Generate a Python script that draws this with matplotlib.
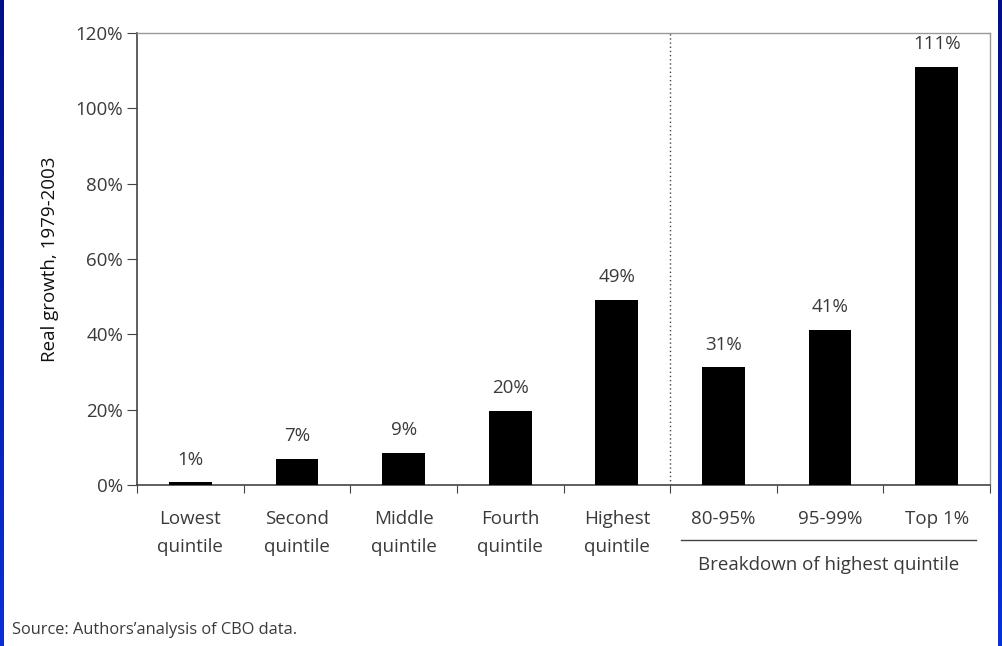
import numpy as np
import matplotlib
matplotlib.use("Agg")
from matplotlib import pyplot as plt

plt.rcParams['font.family'] = ['Open Sans', 'DejaVu Sans']

# data
categories = ['Lowest\nquintile', 'Second\nquintile', 'Middle\nquintile', 'Fourth\nquintile',
              'Highest\nquintile', '80-95%', '95-99%', 'Top 1%']
growth = [0.7, 6.9, 8.6, 19.7, 49.2, 31.2, 41.2, 111.0]
value_labels = ['1%', '7%', '9%', '20%', '49%', '31%', '41%', '111%']
y_ticks = [0, 20, 40, 60, 80, 100, 120]

text_color = '#3a3a3a'
fs = 13.5

fig = plt.figure(figsize=(10.02, 6.46), dpi=100)
ax = fig.add_axes([137 / 1002, 1 - 485 / 646, (990 - 137) / 1002, (485 - 33) / 646])

x = np.arange(len(categories))
ax.bar(x, growth, width=0.4, color='black', zorder=3)
for xi, v, lab in zip(x, growth, value_labels):
    ax.text(xi, v + 6.0, lab, ha='center', va='center', fontsize=fs, color=text_color)

ax.set_xlim(-0.5, len(categories) - 0.5)
ax.set_ylim(0, 120)
ax.set_yticks(y_ticks)
ax.set_yticklabels([f'{t}%' for t in y_ticks])
ax.set_xticks(np.arange(len(categories) + 1) - 0.5)
ax.set_xticklabels([])
ax.set_xticks(x, minor=True)
ax.set_xticklabels(categories, minor=True, linespacing=1.7)
ax.tick_params(axis='x', which='minor', length=0, pad=18, labelsize=fs, labelcolor=text_color)
ax.tick_params(axis='x', which='major', direction='out', length=6, color='#444444')
ax.tick_params(axis='y', direction='out', length=7, color='#444444', labelsize=fs,
               labelcolor=text_color, pad=3)

for side in ['left', 'bottom']:
    ax.spines[side].set_color('#444444')
    ax.spines[side].set_linewidth(1.2)
for side in ['top', 'right']:
    ax.spines[side].set_color('#999999')
    ax.spines[side].set_linewidth(1.0)

ax.set_ylabel('Real growth, 1979-2003', fontsize=fs, color='#111111', labelpad=12)

# divider between quintiles and the top-quintile breakdown
ax.axvline(4.5, color='#444444', linestyle=(0, (1, 2)), linewidth=1.0)

# bracket under the breakdown groups
fig.add_artist(plt.Line2D([681 / 1002, 976 / 1002], [1 - 540 / 646, 1 - 540 / 646],
                          color='#444444', linewidth=1.0))
fig.text(829 / 1002, 1 - 565 / 646, 'Breakdown of highest quintile', ha='center', va='center',
         fontsize=fs, color=text_color)

fig.text(12 / 1002, 1 - 630 / 646, "Source: Authors\u2019analysis of CBO data.", ha='left',
         va='center', fontsize=11.8, color=text_color)

# blue frame strips at the image edges
grad = np.linspace(0, 1, 256).reshape(-1, 1)
cmap = matplotlib.colors.LinearSegmentedColormap.from_list('edge', ['#0a30d8', '#000e88'])
for left in [0, 998 / 1002]:
    strip = fig.add_axes([left, 0, 4 / 1002, 1])
    strip.imshow(grad, aspect='auto', cmap=cmap, origin='lower')
    strip.axis('off')

fig.savefig('out.png', dpi=100)
